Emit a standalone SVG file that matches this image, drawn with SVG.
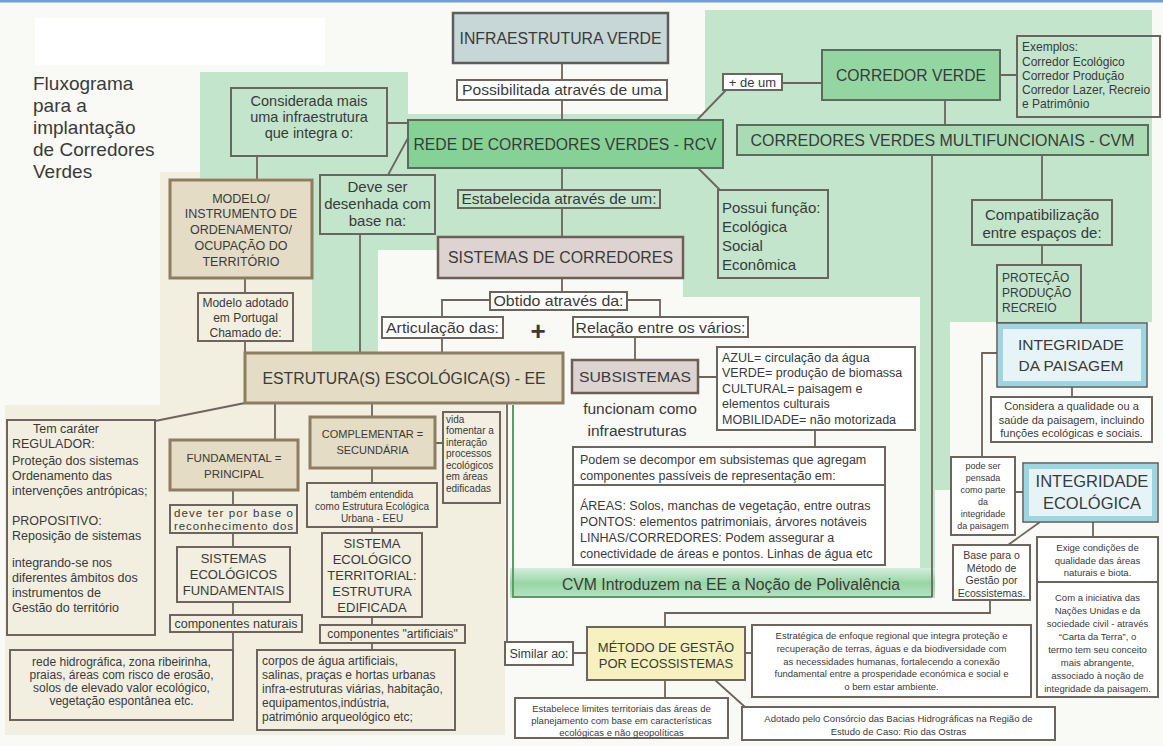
<svg xmlns="http://www.w3.org/2000/svg" width="1163" height="746" viewBox="0 0 1163 746">
<defs>
<style>
.t{font-family:"Liberation Sans",Arial,sans-serif;fill:#3a3a3a}
.c{text-anchor:middle}
.bx{fill:none;stroke:#6c655d;stroke-width:2}
.bw{fill:#fff;stroke:#6c655d;stroke-width:2}
.tan{fill:#e4dcc5;stroke:#8d7d62;stroke-width:3}
.gry{fill:#ddd4d1;stroke:#6b5f57;stroke-width:2.5}
.ln{fill:none;stroke:#6c655d;stroke-width:1.8}
.blo{fill:#e6f4f7;stroke:#5a5a5a;stroke-width:1.5}
.bli{fill:none;stroke:#9dd5e1;stroke-width:5}
</style>
<linearGradient id="band" x1="0" y1="0" x2="0" y2="1">
<stop offset="0" stop-color="#d3eedb"/>
<stop offset="0.5" stop-color="#98d6a6"/>
<stop offset="1" stop-color="#b8e3c2"/>
</linearGradient>
</defs>
<rect x="0" y="0" width="1163" height="746" fill="#f9f9f6"/>
<rect x="0" y="0" width="1163" height="2.5" fill="#6f9fd6"/>
<rect x="35" y="18" width="290" height="47" fill="#ffffff"/>
<!-- background zones -->
<path d="M160,172 H312 V403 H505 V735 H5 V405 H160 Z" fill="#f2eee0"/>
<path d="M200,72 H408 V114 H705 V10 H1152 V322 H950 V490 H935 V598 H510 V570 H920 V297 H683 V250 H378 V352 H312 V178 H200 Z" fill="#c2e5cc"/>
<rect x="510" y="568" width="425" height="30" fill="url(#band)"/>
<path d="M513,405 V597 H932" fill="none" stroke="#5e9a6a" stroke-width="2"/>
<g id="title">
<text class="t" x="33" y="90" font-size="19" fill="#333">Fluxograma</text>
<text class="t" x="33" y="112" font-size="19" fill="#333">para a</text>
<text class="t" x="33" y="134" font-size="19" fill="#333">implantação</text>
<text class="t" x="33" y="156" font-size="19" fill="#333">de Corredores</text>
<text class="t" x="33" y="178" font-size="19" fill="#333">Verdes</text>
</g>
<g id="connectors">
<path class="ln" d="M562,63 V80 M562,100 V120 M562,168 V190 M562,208 V237"/>
<path class="ln" d="M387,123 H408 M257,156 V180 M388,175 L408,138 M360,234 V353"/>
<path class="ln" d="M245,278 V293 M245,341 V353"/>
<path class="ln" d="M562,278 V292 M490,300 H442 V317 M627,300 H660 V317 M442,338 V353 M635,337 V360"/>
<path class="ln" d="M698,377 H717 M815,430 V447"/>
<path class="ln" d="M697,120 L726,90 M782,83 H822 M1000,75 H1017 M945,100 V125 M698,168 L720,190"/>
<path class="ln" d="M932,155 V597 M1042,155 V200 M1042,245 V265"/>
<path class="ln" d="M1072,387 V397 M997,353 H982 V457 M1015,492 H1023 M1093,522 V537 M1040,522 L1008,545"/>
<path class="ln" d="M990,600 V613 H665 V627 M665,680 V698 M715,680 L745,707 M745,653 H752 M573,653 H587"/>
<path class="ln" d="M507,403 V642 M245,403 L155,421 M275,403 V440"/>
<path class="ln" d="M372,403 V417 M372,468 V483 M372,527 V533 M372,617 V625 M372,643 V650 M435,443 H443"/>
<path class="ln" d="M233,490 V505 M233,533 V547 M233,602 V615 M233,632 V650"/>
</g>
<g id="n-infra">
<rect x="453" y="13" width="215" height="50" fill="#c7d7d7" stroke="#5d5d5d" stroke-width="2.5"/>
<text class="t c" x="560.5" y="43.5" font-size="16" textLength="202" lengthAdjust="spacingAndGlyphs">INFRAESTRUTURA VERDE</text>
</g>
<g id="n-possib">
<rect class="bw" x="457" y="80" width="210" height="20"/>
<text class="t c" x="562" y="95.4" font-size="15" textLength="200" lengthAdjust="spacingAndGlyphs">Possibilitada através de uma</text>
</g>
<g id="n-rcv">
<rect x="408" y="120" width="315" height="48" fill="#86d296" stroke="#5b6b5e" stroke-width="2"/>
<text class="t c" x="565" y="149.5" font-size="16" textLength="303" lengthAdjust="spacingAndGlyphs">REDE DE CORREDORES VERDES - RCV</text>
</g>
<g id="n-estab">
<rect class="bx" x="458" y="190" width="202" height="18"/>
<text class="t c" x="559" y="204.4" font-size="15" textLength="195" lengthAdjust="spacingAndGlyphs">Estabelecida através de um:</text>
</g>
<g id="n-consid">
<rect class="bx" x="231" y="88" width="156" height="68"/>
<text class="t c" x="309" y="106" font-size="14.5">Considerada mais</text>
<text class="t c" x="309" y="122" font-size="14.5">uma infraestrutura</text>
<text class="t c" x="309" y="138" font-size="14.5">que integra o:</text>
</g>
<g id="n-deve">
<rect class="bx" x="320" y="175" width="115" height="59"/>
<text class="t c" x="377.5" y="191.5" font-size="15">Deve ser</text>
<text class="t c" x="377.5" y="208.5" font-size="15">desenhada com</text>
<text class="t c" x="377.5" y="225.5" font-size="15">base na:</text>
</g>
<g id="n-modelo">
<rect class="tan" x="170" y="180" width="142" height="98"/>
<text class="t c" x="241" y="202.5" font-size="12.5">MODELO/</text>
<text class="t c" x="241" y="217.5" font-size="12.5">INSTRUMENTO DE</text>
<text class="t c" x="241" y="233.5" font-size="12.5">ORDENAMENTO/</text>
<text class="t c" x="241" y="249.5" font-size="12.5">OCUPAÇÃO DO</text>
<text class="t c" x="241" y="265.5" font-size="12.5">TERRITÓRIO</text>
</g>
<g id="n-adot">
<rect class="bx" x="198" y="293" width="95" height="48"/>
<text class="t c" x="245.5" y="307" font-size="12">Modelo adotado</text>
<text class="t c" x="245.5" y="322" font-size="12">em Portugal</text>
<text class="t c" x="245.5" y="337" font-size="12">Chamado de:</text>
</g>
<g id="n-ee">
<rect class="tan" x="245" y="353" width="318" height="50"/>
<text class="t c" x="404" y="383.5" font-size="16" textLength="283" lengthAdjust="spacingAndGlyphs">ESTRUTURA(S) ESCOLÓGICA(S) - EE</text>
</g>
<g id="n-sist">
<rect class="gry" x="438" y="237" width="245" height="41"/>
<text class="t c" x="560.5" y="263" font-size="16" textLength="225" lengthAdjust="spacingAndGlyphs">SISTEMAS DE CORREDORES</text>
</g>
<g id="n-obtido">
<rect class="bw" x="490" y="292" width="137" height="18"/>
<text class="t c" x="558.5" y="306.4" font-size="15" textLength="130" lengthAdjust="spacingAndGlyphs">Obtido através da:</text>
</g>
<g id="n-artic">
<rect class="bw" x="382" y="317" width="121" height="21"/>
<text class="t c" x="442.5" y="333" font-size="15.5" textLength="113" lengthAdjust="spacingAndGlyphs">Articulação das:</text>
</g>
<g id="n-plus">
<text class="t c" x="538" y="340" font-size="26" font-weight="bold" fill="#222">+</text>
</g>
<g id="n-relacao">
<rect class="bw" x="573" y="317" width="175" height="20"/>
<text class="t c" x="660.5" y="332.5" font-size="15.5" textLength="170" lengthAdjust="spacingAndGlyphs">Relação entre os vários:</text>
</g>
<g id="n-sub">
<rect class="gry" x="572" y="360" width="126" height="33"/>
<text class="t c" x="635" y="382" font-size="15.5" textLength="112" lengthAdjust="spacingAndGlyphs">SUBSISTEMAS</text>
</g>
<g id="n-funcionam">
<text class="t c" x="640" y="413.5" font-size="15.5">funcionam como</text>
<text class="t c" x="637" y="435.5" font-size="15.5">infraestruturas</text>
</g>
<g id="n-azul">
<rect class="bw" x="717" y="347" width="198" height="83"/>
<text class="t" x="722" y="361.5" font-size="12.5">AZUL= circulação da água</text>
<text class="t" x="722" y="377" font-size="12.5">VERDE= produção de biomassa</text>
<text class="t" x="722" y="392.5" font-size="12.5">CULTURAL= paisagem e</text>
<text class="t" x="722" y="408" font-size="12.5">elementos culturais</text>
<text class="t" x="722" y="423.5" font-size="12.5">MOBILIDADE= não motorizada</text>
</g>
<g id="n-podem">
<rect class="bw" x="573" y="447" width="312" height="118"/>
<path class="ln" d="M573,485 H885"/>
<text class="t" x="580" y="463.5" font-size="12.5">Podem se decompor em subsistemas que agregam</text>
<text class="t" x="580" y="479.5" font-size="12.5">componentes passíveis de representação em:</text>
<text class="t" x="580" y="509.5" font-size="12.5">ÁREAS: Solos, manchas de vegetação, entre outras</text>
<text class="t" x="580" y="525.5" font-size="12.5">PONTOS: elementos patrimoniais, árvores notáveis</text>
<text class="t" x="580" y="541.5" font-size="12.5">LINHAS/CORREDORES: Podem assegurar a</text>
<text class="t" x="580" y="557.5" font-size="12.5">conectividade de áreas e pontos. Linhas de água etc</text>
</g>
<g id="n-cvmband">
<text class="t c" x="731" y="589.5" font-size="16" fill="#2f5a3a" textLength="338" lengthAdjust="spacingAndGlyphs">CVM Introduzem na EE a Noção de Polivalência</text>
</g>
<g id="n-possui">
<rect class="bx" x="718" y="190" width="110" height="88"/>
<text class="t" x="722" y="213.4" font-size="15">Possui função:</text>
<text class="t" x="722" y="232.4" font-size="15">Ecológica</text>
<text class="t" x="722" y="251.4" font-size="15">Social</text>
<text class="t" x="722" y="270.4" font-size="15">Econômica</text>
</g>
<g id="n-plusdeum">
<rect class="bw" x="723" y="74" width="59" height="16"/>
<text class="t c" x="752.5" y="86.5" font-size="13">+ de um</text>
</g>
<g id="n-corredor">
<rect x="822" y="50" width="178" height="50" fill="#93d6a1" stroke="#5b6b5e" stroke-width="2"/>
<text class="t c" x="911" y="80.5" font-size="16" textLength="150" lengthAdjust="spacingAndGlyphs">CORREDOR VERDE</text>
</g>
<g id="n-exemplos">
<rect class="bx" x="1017" y="36" width="143" height="81"/>
<text class="t" x="1022" y="51.3" font-size="12">Exemplos:</text>
<text class="t" x="1022" y="66.3" font-size="12">Corredor Ecológico</text>
<text class="t" x="1022" y="80.3" font-size="12">Corredor Produção</text>
<text class="t" x="1022" y="94.3" font-size="12">Corredor Lazer, Recreio</text>
<text class="t" x="1022" y="108.3" font-size="12">e Patrimônio</text>
</g>
<g id="n-cvm">
<rect x="737" y="125" width="411" height="30" fill="#a9dcb4" stroke="#5b6b5e" stroke-width="2"/>
<text class="t c" x="942.5" y="145.5" font-size="16" textLength="384" lengthAdjust="spacingAndGlyphs">CORREDORES VERDES MULTIFUNCIONAIS - CVM</text>
</g>
<g id="n-compat">
<rect class="bx" x="972" y="200" width="140" height="45"/>
<text class="t c" x="1042" y="220.4" font-size="15">Compatibilização</text>
<text class="t c" x="1042" y="238.4" font-size="15">entre espaços de:</text>
</g>
<g id="n-prot">
<rect class="bx" x="997" y="265" width="84" height="58"/>
<text class="t" x="1002" y="282.3" font-size="12">PROTEÇÃO</text>
<text class="t" x="1002" y="297.3" font-size="12">PRODUÇÃO</text>
<text class="t" x="1002" y="312.3" font-size="12">RECREIO</text>
</g>
<g id="n-intp">
<rect class="blo" x="997" y="323" width="150" height="64"/>
<rect class="bli" x="1000.5" y="326.5" width="143" height="57"/>
<text class="t c" x="1071" y="350.4" font-size="15.5">INTEGRIDADE</text>
<text class="t c" x="1071" y="371.4" font-size="15.5">DA PAISAGEM</text>
</g>
<g id="n-considera">
<rect class="bw" x="991" y="397" width="161" height="45"/>
<text class="t c" x="1071.5" y="410" font-size="11">Considera a qualidade ou a</text>
<text class="t c" x="1071.5" y="423.5" font-size="11">saúde da paisagem, incluindo</text>
<text class="t c" x="1071.5" y="437" font-size="11">funções ecológicas e sociais.</text>
</g>
<g id="n-pode">
<rect class="bw" x="951" y="457" width="64" height="78"/>
<text class="t c" x="983" y="469.2" font-size="9">pode ser</text>
<text class="t c" x="983" y="481.2" font-size="9">pensada</text>
<text class="t c" x="983" y="493.2" font-size="9">como parte</text>
<text class="t c" x="983" y="505.2" font-size="9">da</text>
<text class="t c" x="983" y="517.2" font-size="9">integridade</text>
<text class="t c" x="983" y="529.2" font-size="9">da paisagem</text>
</g>
<g id="n-inte">
<rect class="blo" x="1023" y="463" width="135" height="59"/>
<rect class="bli" x="1026.5" y="466.5" width="128" height="52"/>
<text class="t c" x="1092" y="486.9" font-size="16.5">INTEGRIDADE</text>
<text class="t c" x="1092" y="508.9" font-size="16.5">ECOLÓGICA</text>
</g>
<g id="n-exige">
<rect class="bw" x="1037" y="537" width="121" height="160"/>
<path class="ln" d="M1037,582 H1158"/>
<text class="t c" x="1097.5" y="551.4" font-size="9.5">Exige condições de</text>
<text class="t c" x="1097.5" y="563.9" font-size="9.5">qualidade das áreas</text>
<text class="t c" x="1097.5" y="576.4" font-size="9.5">naturais e biota.</text>
<text class="t c" x="1097.5" y="601.4" font-size="9.5">Com a iniciativa das</text>
<text class="t c" x="1097.5" y="614.4" font-size="9.5">Nações Unidas e da</text>
<text class="t c" x="1097.5" y="627.4" font-size="9.5">sociedade civil - através</text>
<text class="t c" x="1097.5" y="640.4" font-size="9.5">“Carta da Terra”, o</text>
<text class="t c" x="1097.5" y="653.4" font-size="9.5">termo tem seu conceito</text>
<text class="t c" x="1097.5" y="666.4" font-size="9.5">mais abrangente,</text>
<text class="t c" x="1097.5" y="679.4" font-size="9.5">associado à noção de</text>
<text class="t c" x="1097.5" y="692.4" font-size="9.5">integridade da paisagem.</text>
</g>
<g id="n-base">
<rect class="bw" x="953" y="545" width="77" height="55"/>
<text class="t c" x="991.5" y="558.8" font-size="10.5">Base para o</text>
<text class="t c" x="991.5" y="571.8" font-size="10.5">Método de</text>
<text class="t c" x="991.5" y="584.3" font-size="10.5">Gestão por</text>
<text class="t c" x="991.5" y="596.8" font-size="10.5">Ecossistemas.</text>
</g>
<g id="n-metodo">
<rect x="587" y="627" width="158" height="53" fill="#f6f1bf" stroke="#6c655d" stroke-width="2"/>
<text class="t c" x="666" y="651.7" font-size="13">MÉTODO DE GESTÃO</text>
<text class="t c" x="666" y="667.7" font-size="13">POR ECOSSISTEMAS</text>
</g>
<g id="n-similar">
<rect class="bw" x="505" y="642" width="68" height="23"/>
<text class="t c" x="539" y="658" font-size="12.5">Similar ao:</text>
</g>
<g id="n-estrat">
<rect class="bw" x="752" y="625" width="279" height="72"/>
<text class="t c" x="891.5" y="639.4" font-size="9.5">Estratégica de enfoque regional que integra proteção e</text>
<text class="t c" x="891.5" y="652.4" font-size="9.5">recuperação de terras, águas e da biodiversidade com</text>
<text class="t c" x="891.5" y="664.9" font-size="9.5">as necessidades humanas, fortalecendo a conexão</text>
<text class="t c" x="891.5" y="677.4" font-size="9.5">fundamental entre a prosperidade económica e social e</text>
<text class="t c" x="891.5" y="690.4" font-size="9.5">o bem estar ambiente.</text>
</g>
<g id="n-estabelece">
<rect class="bw" x="515" y="698" width="213" height="40"/>
<text class="t c" x="621.5" y="712.4" font-size="9.5">Estabelece limites territoriais das áreas de</text>
<text class="t c" x="621.5" y="724.4" font-size="9.5">planejamento com base em características</text>
<text class="t c" x="621.5" y="736.4" font-size="9.5">ecológicas e não geopolíticas</text>
</g>
<g id="n-adotado">
<rect class="bw" x="742" y="707" width="313" height="33"/>
<text class="t c" x="898.5" y="721.9" font-size="9.5">Adotado pelo Consórcio das Bacias Hidrográficas na Região de</text>
<text class="t c" x="898.5" y="734.9" font-size="9.5">Estudo de Caso: Rio das Ostras</text>
</g>
<g id="n-tem">
<rect class="bx" x="7" y="420" width="148" height="215"/>
<text class="t" x="33" y="432.5" font-size="12.5">Tem caráter</text>
<text class="t" x="12" y="447.5" font-size="12.5">REGULADOR:</text>
<text class="t" x="12" y="464.5" font-size="12.5">Proteção dos sistemas</text>
<text class="t" x="12" y="479.5" font-size="12.5">Ordenamento das</text>
<text class="t" x="12" y="494.5" font-size="12.5">intervenções antrópicas;</text>
<text class="t" x="12" y="524.5" font-size="12.5">PROPOSITIVO:</text>
<text class="t" x="12" y="539.5" font-size="12.5">Reposição de sistemas</text>
<text class="t" x="12" y="566.5" font-size="12.5">integrando-se nos</text>
<text class="t" x="12" y="581.5" font-size="12.5">diferentes âmbitos dos</text>
<text class="t" x="12" y="596.5" font-size="12.5">instrumentos de</text>
<text class="t" x="12" y="611.5" font-size="12.5">Gestão do território</text>
</g>
<g id="n-fund">
<rect class="tan" x="170" y="440" width="128" height="50"/>
<text class="t c" x="234" y="462.2" font-size="11.5">FUNDAMENTAL =</text>
<text class="t c" x="234" y="478.2" font-size="11.5">PRINCIPAL</text>
</g>
<g id="n-compl">
<rect class="tan" x="310" y="417" width="125" height="51"/>
<text class="t c" x="372.5" y="438" font-size="11">COMPLEMENTAR =</text>
<text class="t c" x="372.5" y="454" font-size="11">SECUNDÁRIA</text>
</g>
<g id="n-vida">
<rect class="bx" x="443" y="412" width="57" height="91"/>
<text class="t" x="446" y="422.5" font-size="10">vida</text>
<text class="t" x="446" y="434" font-size="10">fomentar a</text>
<text class="t" x="446" y="445.5" font-size="10">interação</text>
<text class="t" x="446" y="457" font-size="10">processos</text>
<text class="t" x="446" y="468.5" font-size="10">ecológicos</text>
<text class="t" x="446" y="480" font-size="10">em áreas</text>
<text class="t" x="446" y="491.5" font-size="10">edificadas</text>
</g>
<g id="n-tambem">
<rect class="bx" x="307" y="483" width="130" height="44"/>
<text class="t c" x="372" y="497.5" font-size="10">também entendida</text>
<text class="t c" x="372" y="509.5" font-size="10">como Estrutura Ecológica</text>
<text class="t c" x="372" y="521.5" font-size="10">Urbana - EEU</text>
</g>
<g id="n-devet">
<rect class="bx" x="170" y="505" width="127" height="28"/>
<text class="t c" x="233.5" y="517" font-size="11.5" textLength="119" lengthAdjust="spacing">deve ter por base o</text>
<text class="t c" x="233.5" y="530" font-size="11.5" textLength="119" lengthAdjust="spacing">reconhecimento dos</text>
</g>
<g id="n-sef">
<rect class="bx" x="177" y="547" width="113" height="55"/>
<text class="t c" x="233.5" y="562.7" font-size="13">SISTEMAS</text>
<text class="t c" x="233.5" y="578.7" font-size="13">ECOLÓGICOS</text>
<text class="t c" x="233.5" y="594.7" font-size="13">FUNDAMENTAIS</text>
</g>
<g id="n-compnat">
<rect class="bx" x="170" y="615" width="132" height="17"/>
<text class="t c" x="236" y="628" font-size="12.5">componentes naturais</text>
</g>
<g id="n-bl">
<rect class="bx" x="10" y="650" width="223" height="70"/>
<text class="t c" x="121.5" y="666.3" font-size="12">rede hidrográfica, zona ribeirinha,</text>
<text class="t c" x="121.5" y="679.3" font-size="12">praias, áreas com risco de erosão,</text>
<text class="t c" x="121.5" y="692.3" font-size="12">solos de elevado valor ecológico,</text>
<text class="t c" x="121.5" y="705.3" font-size="12">vegetação espontânea etc.</text>
</g>
<g id="n-setee">
<rect class="bx" x="322" y="533" width="100" height="84"/>
<text class="t c" x="372" y="547.7" font-size="13">SISTEMA</text>
<text class="t c" x="372" y="563.7" font-size="13">ECOLÓGICO</text>
<text class="t c" x="372" y="579.7" font-size="13">TERRITORIAL:</text>
<text class="t c" x="372" y="595.7" font-size="13">ESTRUTURA</text>
<text class="t c" x="372" y="611.7" font-size="13">EDIFICADA</text>
</g>
<g id="n-compart">
<rect class="bx" x="320" y="625" width="145" height="18"/>
<text class="t c" x="392.5" y="638.3" font-size="12">componentes "artificiais"</text>
</g>
<g id="n-bm">
<rect class="bx" x="257" y="650" width="198" height="80"/>
<text class="t" x="262" y="665.3" font-size="12">corpos de água artificiais,</text>
<text class="t" x="262" y="679.3" font-size="12">salinas, praças e hortas urbanas</text>
<text class="t" x="262" y="693.3" font-size="12">infra-estruturas viárias, habitação,</text>
<text class="t" x="262" y="707.3" font-size="12">equipamentos,indústria,</text>
<text class="t" x="262" y="721.3" font-size="12">património arqueológico etc;</text>
</g>
</svg>
